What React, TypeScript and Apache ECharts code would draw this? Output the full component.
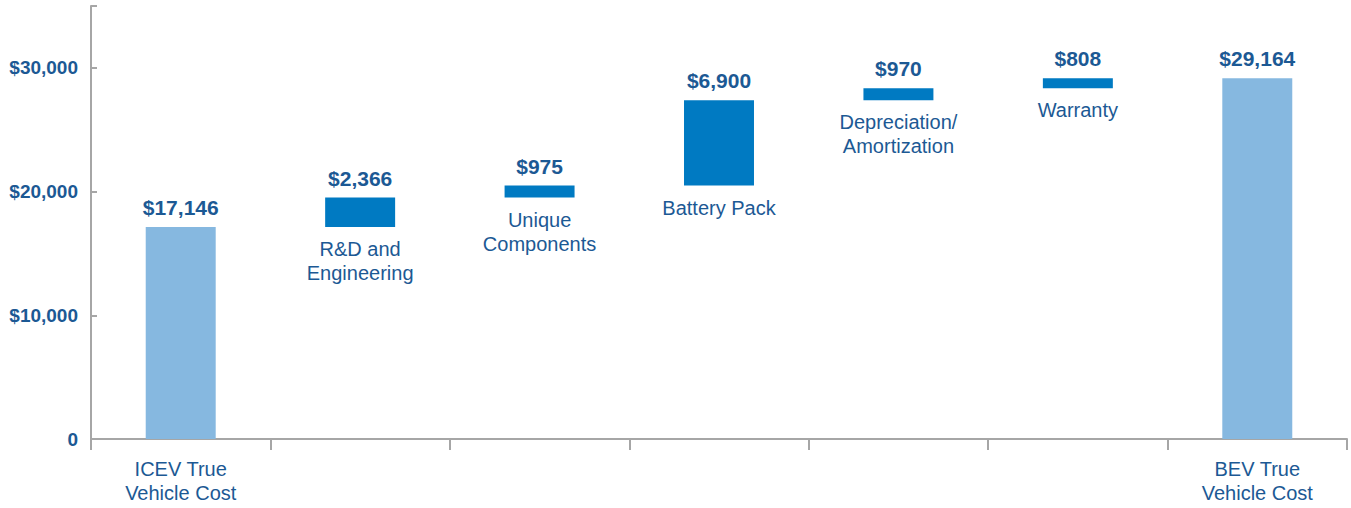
import React, { useEffect, useRef } from "react";
import * as echarts from "echarts";

const categories = [
  "ICEV True\nVehicle Cost",
  "R&D and\nEngineering",
  "Unique\nComponents",
  "Battery Pack",
  "Depreciation/\nAmortization",
  "Warranty",
  "BEV True\nVehicle Cost",
];
const values = [17146, 2366, 975, 6900, 970, 808, 29164];
const isTotal = [true, false, false, false, false, false, true];
const yTicks = [0, 10000, 20000, 30000];

const TEXT = "#1c5994";
const LIGHT = "#86b8e0";
const DARK = "#007ac2";
const AXIS = "#a6a6a6";
const FONT = "'Liberation Sans', Arial, sans-serif";

export default function App() {
  const ref = useRef<HTMLDivElement>(null);
  useEffect(() => {
    if (!ref.current) return;
    const chart = echarts.init(ref.current, null, { renderer: "svg" });
    // waterfall bases
    const bases: number[] = [];
    let run = 0;
    values.forEach((v, i) => {
      if (isTotal[i]) {
        bases.push(0);
        run = v;
      } else {
        bases.push(run);
        run += v;
      }
    });
    const fmt = (v: number) => "$" + v.toLocaleString("en-US");
    chart.setOption({
      animation: false,
      grid: { left: 91, right: 4, top: 6, bottom: 69, containLabel: false },
      xAxis: {
        type: "category",
        data: categories,
        axisLine: { lineStyle: { color: AXIS, width: 2 } },
        axisTick: { show: true, length: 11, lineStyle: { color: AXIS, width: 2 } },
        axisLabel: {
          interval: 0,
          color: TEXT,
          fontFamily: FONT,
          fontSize: 20,
          lineHeight: 24,
          margin: 18,
          formatter: (v: string, i: number) => (isTotal[i] ? v : ""),
        },
      },
      yAxis: {
        type: "value",
        min: 0,
        max: 35000,
        interval: 10000,
        splitLine: { show: false },
        axisLine: { show: true, lineStyle: { color: AXIS, width: 2 } },
        axisTick: { show: true, inside: true, length: 6, lineStyle: { color: AXIS, width: 2 } },
        axisLabel: {
          color: TEXT,
          fontFamily: FONT,
          fontWeight: "bold",
          fontSize: 19,
          margin: 13,
          formatter: (v: number) =>
            yTicks.includes(v) ? (v === 0 ? "0" : fmt(v)) : "",
        },
      },
      series: [
        {
          type: "bar",
          stack: "wf",
          barWidth: "39%",
          silent: true,
          itemStyle: { color: "transparent" },
          data: bases.map((b, i) => ({
            value: b,
            label: {
              show: !isTotal[i],
              position: "insideTop",
              distance: 10,
              color: TEXT,
              fontFamily: FONT,
              fontSize: 20,
              lineHeight: 24,
              formatter: () => categories[i],
            },
          })),
        },
        {
          type: "bar",
          stack: "wf",
          barWidth: "39%",
          data: values.map((v, i) => ({
            value: v,
            itemStyle: { color: isTotal[i] ? LIGHT : DARK },
          })),
          label: {
            show: true,
            position: "top",
            distance: 9,
            color: TEXT,
            fontFamily: FONT,
            fontWeight: "bold",
            fontSize: 21,
            formatter: (p: any) => fmt(p.value),
          },
        },
      ],
    });
    return () => chart.dispose();
  }, []);
  return <div ref={ref} style={{ width: 1351, height: 508, position: "absolute", left: 0, top: 0 }} />;
}
